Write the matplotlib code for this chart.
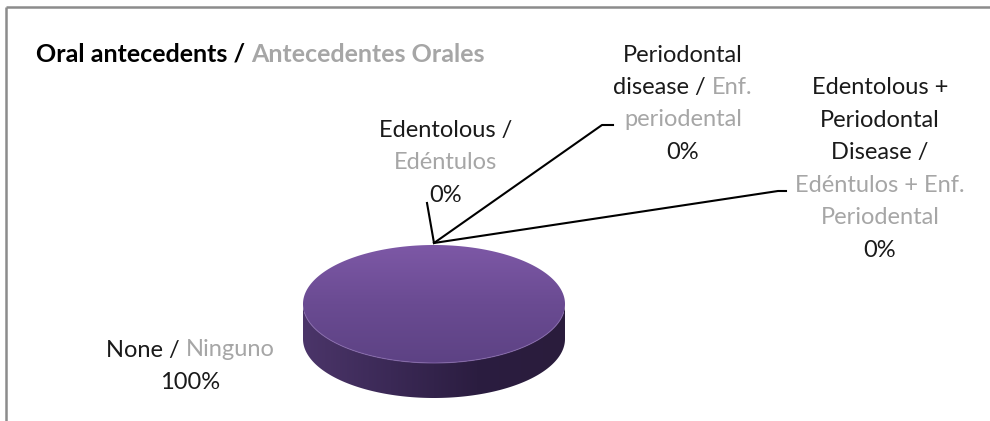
import matplotlib

matplotlib.use("Agg")

import matplotlib.pyplot as plt
import numpy as np
from matplotlib.colors import LinearSegmentedColormap
from matplotlib.patches import Polygon

plt.rcParams["font.family"] = ["Lato", "DejaVu Sans"]

# data
categories_en = ["None", "Edentolous", "Periodontal disease", "Edentolous + Periodontal Disease"]
values = [100, 0, 0, 0]

BLACK = "#1a1a1a"
GRAY = "#a6a6a6"

# label lines: list of (text, colour) segments per line
label_lines = [
    [[("None / ", BLACK), ("Ninguno", GRAY)], [("100%", BLACK)]],
    [[("Edentolous /", BLACK)], [("Edéntulos", GRAY)], [("0%", BLACK)]],
    [[("Periodontal", BLACK)], [("disease / ", BLACK), ("Enf.", GRAY)],
     [("periodental", GRAY)], [("0%", BLACK)]],
    [[("Edentolous +", BLACK)], [("Periodontal", BLACK)], [("Disease /", BLACK)],
     [("Edéntulos + Enf.", GRAY)], [("Periodental", GRAY)], [("0%", BLACK)]],
]
label_anchor = [(190, 350), (446, 130), (683, 55), (880, 88)]
leader_end = [None, [(427, 203)], [(602, 125), (613, 125)], [(778, 191), (786, 191)]]

W, H = 990, 421
fig = plt.figure(figsize=(W / 100, H / 100), dpi=100)
ax = fig.add_axes([0, 0, 1, 1])
ax.set_xlim(0, W)
ax.set_ylim(H, 0)
ax.axis("off")

# frame (top and left only visible)
ax.plot([6, W], [7, 7], color="#8c8c8c", lw=1.8, solid_capstyle="butt")
ax.plot([6, 6], [7, H], color="#8c8c8c", lw=1.8, solid_capstyle="butt")

# 3D pie geometry
cx, cy, rx, ry, depth = 434, 304, 131, 59, 35


def ell(theta):
    # theta measured clockwise from 12 o'clock
    return cx + rx * np.sin(theta), cy - ry * np.cos(theta)


total = float(sum(values))
start = 0.0
slice_angles = []
for v in values:
    span = 2 * np.pi * v / total
    slice_angles.append((start, start + span))
    start += span

top_cmap = LinearSegmentedColormap.from_list("top", ["#7d58a6", "#6a4b92", "#5d4284"])
side_cmap = LinearSegmentedColormap.from_list("side", ["#4b3569", "#3b2956", "#2b1d40", "#2a1c3c"])

for (a0, a1), v in zip(slice_angles, values):
    if v == 0:
        continue
    # side wall: front half of the rim
    th = np.linspace(max(a0, np.pi / 2), min(a1, 3 * np.pi / 2), 200)
    if len(th) > 1 and th[0] < th[-1]:
        xs, ys = ell(th)
        pts = np.column_stack([np.r_[xs, xs[::-1]], np.r_[ys, ys[::-1] + depth]])
        side = Polygon(pts, closed=True, facecolor="none", edgecolor="none")
        ax.add_patch(side)
        grad = np.linspace(0, 1, 256).reshape(1, -1)
        im = ax.imshow(grad, cmap=side_cmap, aspect="auto",
                       extent=(cx - rx, cx + rx, cy + ry + depth, cy - ry), zorder=2)
        im.set_clip_path(side)
    # top face
    th = np.linspace(a0, a1, 400)
    xs, ys = ell(th)
    if a1 - a0 < 2 * np.pi - 1e-9:
        xs, ys = np.r_[cx, xs], np.r_[cy, ys]
    top = Polygon(np.column_stack([xs, ys]), closed=True, facecolor="none", edgecolor="none")
    ax.add_patch(top)
    grad = np.linspace(0, 1, 256).reshape(-1, 1)
    im = ax.imshow(grad, cmap=top_cmap, aspect="auto",
                   extent=(cx - rx, cx + rx, cy + ry, cy - ry), zorder=3)
    im.set_clip_path(top)
    # thin highlight on front edge
    th = np.linspace(np.pi * 0.55, np.pi * 1.45, 200)
    hx, hy = ell(th)
    ax.plot(hx, hy, color="#8a6cb0", lw=0.8, alpha=0.7, zorder=4)

ax.set_xlim(0, W)
ax.set_ylim(H, 0)

# leader lines from the slice edge point (0% slices sit at 12 o'clock)
for (a0, a1), ends in zip(slice_angles, leader_end):
    if ends is None:
        continue
    px, py = ell(a0)
    path = [(px, py - 2)] + ends
    ax.plot([p[0] for p in path], [p[1] for p in path], color="black", lw=1.5, zorder=5)

renderer = fig.canvas.get_renderer()
LINE_GAP = 32.5
FS = 17


def draw_line(xc, y, segments, weight="normal", ha="center", fs=FS):
    texts = []
    for s, c in segments:
        t = ax.text(0, y, s, color=c, fontsize=fs, fontweight=weight,
                    ha="left", va="center", zorder=6)
        texts.append(t)
    widths = [t.get_window_extent(renderer).width for t in texts]
    total_w = sum(widths)
    x = xc - total_w / 2 if ha == "center" else xc
    for t, w in zip(texts, widths):
        t.set_x(x)
        x += w


for lines, (xc, y0) in zip(label_lines, label_anchor):
    for i, segs in enumerate(lines):
        draw_line(xc, y0 + i * LINE_GAP, segs)

title_segments = [("Oral antecedents / ", "#000000"), ("Antecedentes Orales", GRAY)]
draw_line(36, 54, title_segments, weight="bold", ha="left", fs=18)

fig.savefig("out.png", dpi=100)
